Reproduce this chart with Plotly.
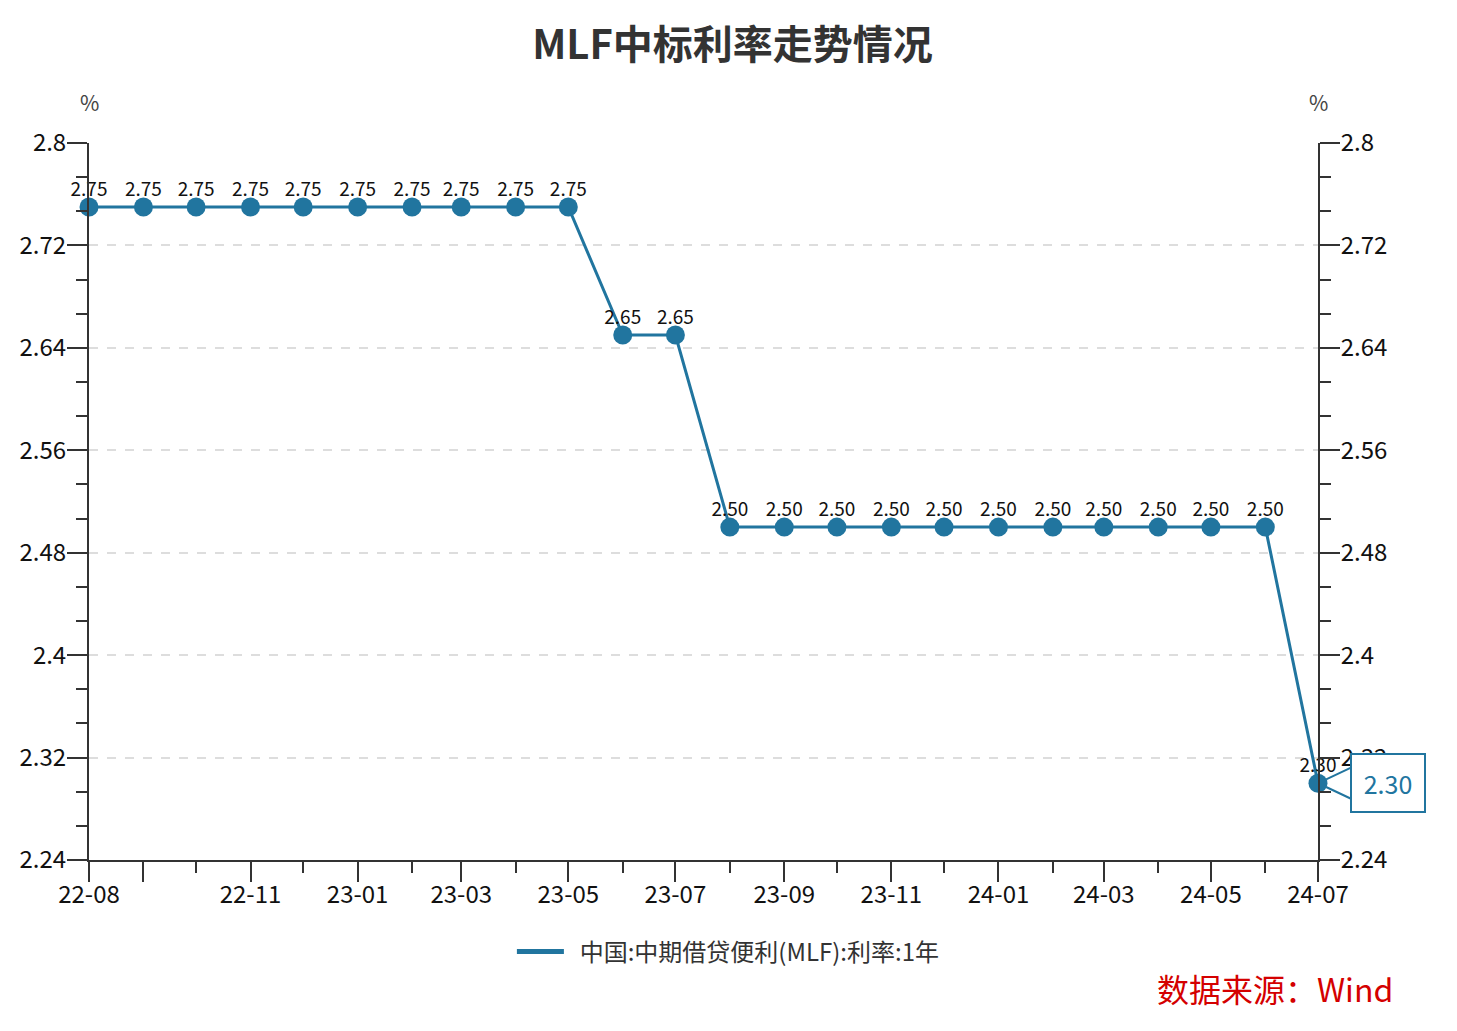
import plotly.graph_objects as go

# ---- data ----
dates = ["2022-08-01", "2022-09-01", "2022-10-01", "2022-11-01", "2022-12-01",
         "2023-01-01", "2023-02-01", "2023-03-01", "2023-04-01", "2023-05-01",
         "2023-06-01", "2023-07-01", "2023-08-01", "2023-09-01", "2023-10-01",
         "2023-11-01", "2023-12-01", "2024-01-01", "2024-02-01", "2024-03-01",
         "2024-04-01", "2024-05-01", "2024-06-01", "2024-07-01"]
rates = [2.75, 2.75, 2.75, 2.75, 2.75, 2.75, 2.75, 2.75, 2.75, 2.75,
         2.65, 2.65,
         2.50, 2.50, 2.50, 2.50, 2.50, 2.50, 2.50, 2.50, 2.50, 2.50, 2.50,
         2.30]
series_name = "中国:中期借贷便利(MLF):利率:1年"

x_major_vals = ["2022-08-01", "2022-09-01", "2022-11-01", "2023-01-01", "2023-03-01",
                "2023-05-01", "2023-07-01", "2023-09-01", "2023-11-01", "2024-01-01",
                "2024-03-01", "2024-05-01", "2024-07-01"]
x_major_text = ["22-08", "", "22-11", "23-01", "23-03", "23-05", "23-07",
                "23-09", "23-11", "24-01", "24-03", "24-05", "24-07"]
x_minor_vals = ["2022-10-01", "2022-12-01", "2023-02-01", "2023-04-01", "2023-06-01",
                "2023-08-01", "2023-10-01", "2023-12-01", "2024-02-01", "2024-04-01",
                "2024-06-01"]
y_tick_vals = [2.24, 2.32, 2.40, 2.48, 2.56, 2.64, 2.72, 2.80]
y_tick_text = ["2.24", "2.32", "2.4", "2.48", "2.56", "2.64", "2.72", "2.8"]
y_range = [2.24, 2.80]

COLOR = "#21759f"
FONT = "Noto Sans CJK SC, Noto Sans, sans-serif"
AXC = "#333333"

# page has an 8px body margin; figure size/margins compensate for it
W, H = 1449, 1023
ML, MR, MT, MB = 76, 139, 135, 171
PW = W - ML - MR
PH = H - MT - MB  # plot height in px

fig = go.Figure()
fig.add_trace(go.Scatter(
    x=dates, y=rates, mode="lines+markers",
    line=dict(color=COLOR, width=3),
    marker=dict(color=COLOR, size=19),
    cliponaxis=False, showlegend=False, name=series_name,
))
# value labels
fig.add_trace(go.Scatter(
    x=dates, y=rates, mode="markers+text",
    marker=dict(size=9, opacity=0),
    text=[f"{v:.2f}" for v in rates],
    textposition="top center",
    textfont=dict(size=19, color="#111111", family=FONT),
    cliponaxis=False, showlegend=False, hoverinfo="skip",
))
# legend entry (line only)
fig.add_trace(go.Scatter(
    x=[None], y=[None], mode="lines", name="\u00a0\u00a0" + series_name,
    line=dict(color=COLOR, width=5), showlegend=True,
))
# invisible trace to activate right axis
fig.add_trace(go.Scatter(
    x=[dates[0]], y=[rates[0]], yaxis="y2", mode="markers",
    marker=dict(opacity=0), showlegend=False, hoverinfo="skip",
))

tickfont = dict(size=24, color="#111111", family=FONT)
yaxis_common = dict(
    range=y_range, tickmode="array", tickvals=y_tick_vals, ticktext=y_tick_text,
    ticks="outside", ticklen=20, tickwidth=2, tickcolor=AXC,
    showline=True, linecolor=AXC, linewidth=2,
    tickfont=tickfont, zeroline=False, ticklabelstandoff=-4,
    minor=dict(ticks="outside", ticklen=11, tickwidth=2, tickcolor=AXC,
               tick0=2.24, dtick=0.08 / 3, showgrid=False),
)

fig.update_layout(
    width=W, height=H,
    margin=dict(l=ML, r=MR, t=MT, b=MB),
    paper_bgcolor="white", plot_bgcolor="white",
    font=dict(family=FONT, color="#333333"),
    title=dict(text="MLF中标利率走势情况", x=0.5, xanchor="center",
               y=1 - 37 / H, yanchor="middle",
               font=dict(size=40, color="#333333", family=FONT, weight=700)),
    xaxis=dict(
        type="date", range=[dates[0], dates[-1]],
        tickmode="array", tickvals=x_major_vals, ticktext=x_major_text,
        ticks="outside", ticklen=20, tickwidth=2, tickcolor=AXC,
        showline=True, linecolor=AXC, linewidth=2, showgrid=False,
        tickfont=tickfont, zeroline=False, ticklabelstandoff=-8,
        minor=dict(ticks="outside", ticklen=11, tickwidth=2, tickcolor=AXC,
                   tickmode="array", tickvals=x_minor_vals, showgrid=False),
    ),
    yaxis=dict(**yaxis_common, side="left", showgrid=True,
               gridcolor="#dddddd", gridwidth=1.5, griddash="dash"),
    yaxis2=dict(**yaxis_common, side="right", overlaying="y", showgrid=False),
    legend=dict(orientation="h", x=(718 - ML) / PW, xanchor="center", y=-92 / PH,
                yanchor="middle", font=dict(size=24, color="#333333", family=FONT),
                itemwidth=47),
)

# axis names
for xp in (0, 1):
    fig.add_annotation(text="%", xref="paper", yref="paper", x=xp, y=1,
                       yshift=41, showarrow=False, xanchor="center", yanchor="middle",
                       font=dict(size=21, color="#444444", family=FONT))

# end-label callout
fig.add_annotation(text="", x=dates[-1], y=rates[-1], xref="x", yref="y",
                   ax=34, ay=-16, axref="pixel", ayref="pixel", showarrow=True,
                   arrowhead=0, arrowwidth=2, arrowcolor=COLOR, standoff=9)
fig.add_annotation(text="", x=dates[-1], y=rates[-1], xref="x", yref="y",
                   ax=34, ay=16, axref="pixel", ayref="pixel", showarrow=True,
                   arrowhead=0, arrowwidth=2, arrowcolor=COLOR, standoff=9)
fig.add_annotation(text=f"{rates[-1]:.2f}", x=dates[-1], y=rates[-1], xref="x", yref="y",
                   showarrow=False, xanchor="left", yanchor="middle", xshift=32,
                   width=70, height=54, borderpad=1, borderwidth=2,
                   bordercolor=COLOR, bgcolor="white",
                   font=dict(size=25, color=COLOR, family=FONT))

# source
fig.add_annotation(text="数据来源：Wind", xref="paper", yref="paper",
                   x=(1397 - 86) / PW, y=-(988 - 860) / PH, xanchor="right",
                   yanchor="middle", showarrow=False,
                   font=dict(size=32, color="#d40000", family=FONT))

fig.write_html("out.html")
